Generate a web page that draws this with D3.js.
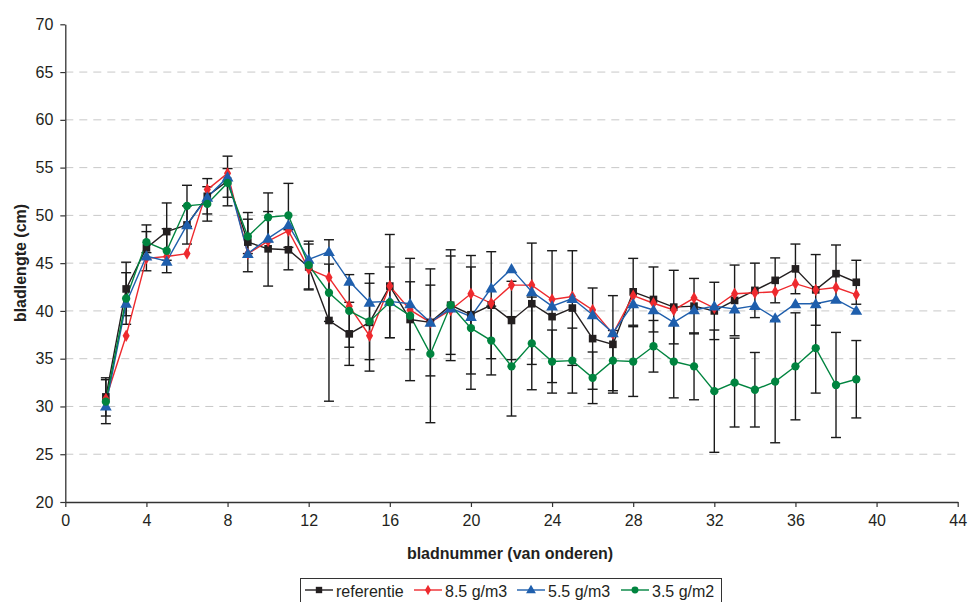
<!DOCTYPE html>
<html>
<head>
<meta charset="utf-8">
<script src="https://cdn.jsdelivr.net/npm/d3@7"></script>
<style>
  html, body { margin: 0; padding: 0; background: #fff; }
  svg { display: block; font-family: "Liberation Sans", Arial, sans-serif; }
</style>
</head>
<body>
<svg id="chart" width="968" height="602"></svg>
<script>
// Leaf number (counted from the bottom)
const leaves = [2,3,4,5,6,7,8,9,10,11,12,13,14,15,16,17,18,19,20,21,22,23,24,25,26,27,28,29,30,31,32,33,34,35,36,37,38,39];

// Mean leaf length (cm) per treatment
const referentie = [31.0,42.3,46.6,48.3,49.0,52.0,53.6,47.2,46.5,46.4,44.6,39.0,37.6,38.8,42.6,39.1,38.8,40.6,39.6,40.6,39.0,40.75,39.4,40.3,37.1,36.5,42.0,41.2,40.4,40.5,40.0,41.1,42.15,43.2,44.4,42.2,43.9,43.0];
const g85 = [30.8,37.4,45.5,45.7,46.0,52.7,54.4,46.0,47.3,48.4,44.4,43.5,40.5,37.4,42.6,40.1,38.8,40.1,41.8,40.8,42.7,42.7,41.2,41.5,40.1,37.6,41.6,40.8,40.1,41.35,40.3,41.8,41.9,42.0,42.85,42.2,42.45,41.7];
const g55 = [30.05,40.8,45.75,45.2,49.0,51.9,54.0,46.0,47.6,49.0,45.4,46.2,43.1,40.9,41.0,40.75,38.8,40.3,39.4,42.4,44.4,42.0,40.5,41.3,39.6,37.7,40.75,40.1,38.8,40.1,40.5,40.2,40.55,39.25,40.75,40.75,41.2,40.05];
const g35 = [30.5,41.3,47.2,46.3,51.0,51.2,53.4,47.8,49.8,50.0,44.8,41.9,40.0,38.9,40.9,39.5,35.5,40.6,38.2,36.9,34.2,36.6,34.7,34.8,33.0,34.8,34.7,36.3,34.7,34.2,31.6,32.5,31.75,32.6,34.2,36.1,32.25,32.85];

// Standard deviations (error bars) for the reference and 3.5 g/m2 series
const referentieSd = [2.0,2.8,2.4,3.0,2.0,1.85,2.6,3.1,3.9,2.1,2.4,8.45,3.3,5.1,5.4,6.4,5.6,5.8,6.2,5.6,4.1,6.35,6.9,6.0,5.3,5.1,3.5,3.4,3.85,2.9,3.0,3.7,2.85,2.35,2.6,3.7,3.0,2.3];
const g35Sd = [2.3,2.7,1.1,2.3,2.15,1.8,1.5,1.8,2.55,3.35,2.5,3.0,3.8,4.0,3.7,3.55,7.2,5.15,6.4,3.6,5.2,4.85,3.3,3.4,2.7,3.15,3.65,2.7,3.8,3.5,6.4,4.65,3.9,6.4,5.6,4.7,5.5,4.05];

// Axis ticks
const xTicks = [0,4,8,12,16,20,24,28,32,36,40,44];
const yTicks = [20,25,30,35,40,45,50,55,60,65,70];
const yGrid = [25,30,35,40,45,50,55,60,65];

const seriesNames = ["referentie", "8.5 g/m3", "5.5 g/m3", "3.5 g/m2"];
const seriesValues = [referentie, g85, g55, g35];
const seriesSd = [referentieSd, null, null, g35Sd];
const seriesColors = ["#231f20", "#ee2a2e", "#1f5fad", "#00843f"];
const seriesShapes = [d3.symbolSquare, d3.symbolDiamond, d3.symbolTriangle, d3.symbolCircle];
const markerSizes = [58, 44, 60, 54];

const svg = d3.select("#chart");
const textColor = "#231f20";

const x = d3.scaleLinear().domain([0, 44]).range([65.3, 957.7]);
const y = d3.scaleLinear().domain([20, 70]).range([502, 24.3]);

// Dashed horizontal gridlines
svg.append("g")
  .selectAll("line")
  .data(yGrid)
  .join("line")
  .attr("x1", x(0)).attr("x2", x(44))
  .attr("y1", d => y(d)).attr("y2", d => y(d))
  .attr("stroke", "#c8c8c8")
  .attr("stroke-width", 1)
  .attr("stroke-dasharray", "8,6");

// Axes
const xAxis = svg.append("g")
  .attr("transform", `translate(0,${y(20)})`)
  .call(d3.axisBottom(x).tickValues(xTicks).tickSize(5).tickSizeOuter(0).tickPadding(8));
const yAxis = svg.append("g")
  .attr("transform", `translate(${x(0)},0)`)
  .call(d3.axisLeft(y).tickValues(yTicks).tickSize(5).tickSizeOuter(0).tickPadding(7));
[xAxis, yAxis].forEach(a => {
  a.select(".domain").attr("stroke", "#333").attr("stroke-width", 1.3);
  a.selectAll(".tick line").attr("stroke", "#333").attr("stroke-width", 1.2);
  a.selectAll(".tick text")
    .attr("fill", textColor)
    .style("font-size", "16px")
    .style("font-family", "'Liberation Sans', Arial, sans-serif");
});

// Axis titles
svg.append("text")
  .attr("x", 510).attr("y", 559)
  .attr("text-anchor", "middle")
  .attr("fill", textColor)
  .style("font-size", "16px").style("font-weight", "bold")
  .text("bladnummer (van onderen)");
svg.append("text")
  .attr("transform", "translate(26,263) rotate(-90)")
  .attr("text-anchor", "middle")
  .attr("fill", textColor)
  .style("font-size", "16px").style("font-weight", "bold")
  .text("bladlengte (cm)");

// Error bars
const capHalf = 5;
seriesValues.forEach((vals, si) => {
  const sd = seriesSd[si];
  if (!sd) return;
  const g = svg.append("g").attr("stroke", "#1a1a1a").attr("stroke-width", 1.4);
  leaves.forEach((n, i) => {
    const lo = vals[i] - sd[i], hi = vals[i] + sd[i];
    g.append("line").attr("x1", x(n)).attr("x2", x(n)).attr("y1", y(lo)).attr("y2", y(hi));
    g.append("line").attr("x1", x(n) - capHalf).attr("x2", x(n) + capHalf).attr("y1", y(lo)).attr("y2", y(lo));
    g.append("line").attr("x1", x(n) - capHalf).attr("x2", x(n) + capHalf).attr("y1", y(hi)).attr("y2", y(hi));
  });
});

// Series lines and markers
const line = d3.line().x(d => x(d[0])).y(d => y(d[1]));
seriesValues.forEach((vals, si) => {
  const pts = leaves.map((n, i) => [n, vals[i]]);
  svg.append("path")
    .datum(pts)
    .attr("d", line)
    .attr("fill", "none")
    .attr("stroke", seriesColors[si])
    .attr("stroke-width", 1.4);
});
seriesValues.forEach((vals, si) => {
  const pts = leaves.map((n, i) => [n, vals[i]]);
  const sym = d3.symbol().type(seriesShapes[si]).size(markerSizes[si]);
  svg.append("g")
    .selectAll("path")
    .data(pts)
    .join("path")
    .attr("transform", d => `translate(${x(d[0])},${y(d[1]) + (si === 2 ? 1 : 0)})`)
    .attr("d", sym)
    .attr("fill", seriesColors[si]);
});

// Legend
svg.append("rect")
  .attr("x", 300.5).attr("y", 578.5)
  .attr("width", 421).attr("height", 40)
  .attr("fill", "#fff")
  .attr("stroke", "#333")
  .attr("stroke-width", 1);
const legendX = [305, 414, 517, 621];
const legendY = 590;
seriesNames.forEach((name, si) => {
  const lx = legendX[si];
  svg.append("line")
    .attr("x1", lx).attr("x2", lx + 28)
    .attr("y1", legendY).attr("y2", legendY)
    .attr("stroke", seriesColors[si]).attr("stroke-width", 1.4);
  svg.append("path")
    .attr("transform", `translate(${lx + 14},${legendY + (si === 2 ? 0.5 : 0)})`)
    .attr("d", d3.symbol().type(seriesShapes[si]).size(markerSizes[si] * 0.7)())
    .attr("fill", seriesColors[si]);
  svg.append("text")
    .attr("x", lx + 31).attr("y", 596.5)
    .attr("fill", textColor)
    .style("font-size", "16px")
    .text(name);
});
</script>
</body>
</html>
